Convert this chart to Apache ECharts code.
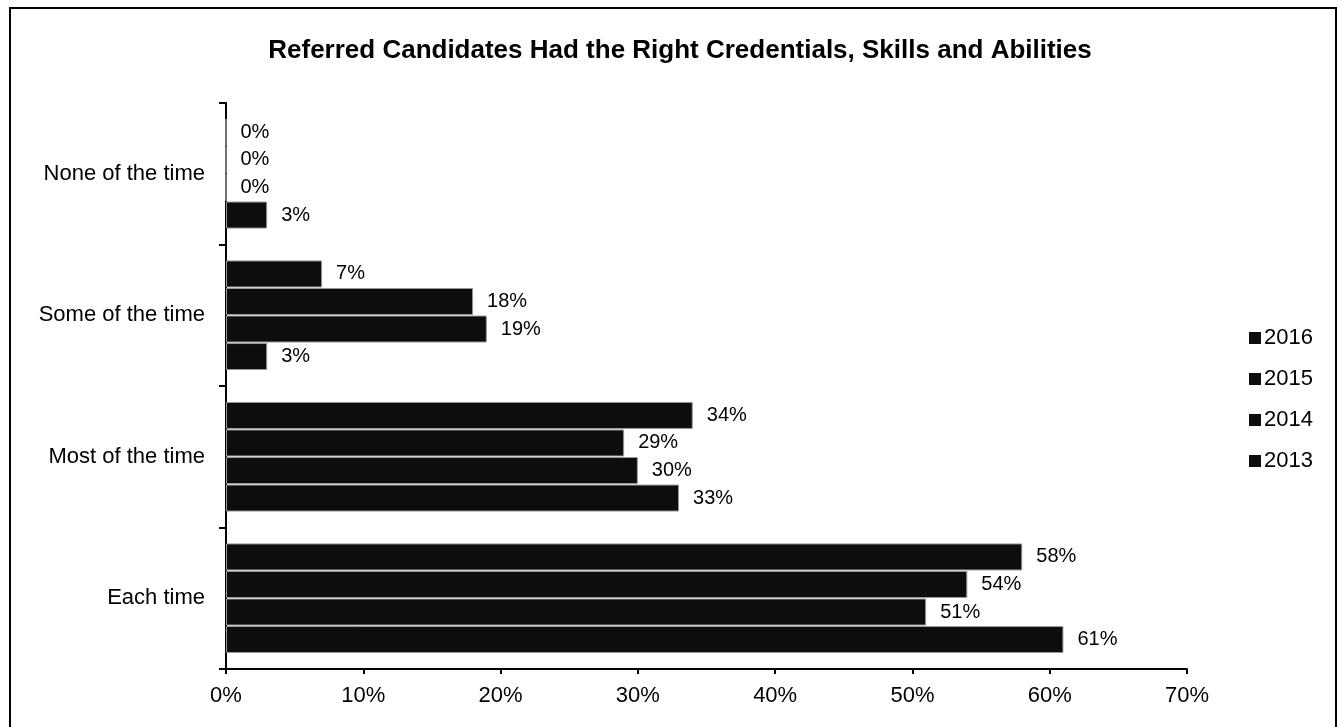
<!DOCTYPE html>
<html>
<head>
<meta charset="utf-8">
<script src="https://cdn.jsdelivr.net/npm/echarts@6/dist/echarts.min.js"></script>
<style>
  html, body { margin: 0; padding: 0; background: #fff; }
  #chart { width: 1338px; height: 727px; }
</style>
</head>
<body>
<div id="chart"></div>
<script>
// Response categories, listed top to bottom
const categories = ['None of the time', 'Some of the time', 'Most of the time', 'Each time'];
// Survey years, in legend order
const years = ['2016', '2015', '2014', '2013'];
// Share of respondents (%) per category for each year
const values2016 = [0, 7, 34, 58];
const values2015 = [0, 18, 29, 54];
const values2014 = [0, 19, 30, 51];
const values2013 = [3, 3, 33, 61];
// Percent axis ticks
const xTicks = [0, 10, 20, 30, 40, 50, 60, 70];

const seriesValues = [values2016, values2015, values2014, values2013];
const FONT = '"Liberation Sans", Arial, sans-serif';

const chart = echarts.init(document.getElementById('chart'), null, { renderer: 'canvas' });

chart.setOption({
  backgroundColor: '#fff',
  animation: false,
  title: {
    text: 'Referred Candidates Had the Right Credentials, Skills and Abilities',
    left: 675,
    textAlign: 'center',
    top: 33,
    textStyle: { fontFamily: FONT, fontSize: 26, fontWeight: 'bold', color: '#000' }
  },
  graphic: [{
    type: 'rect',
    shape: { x: 10, y: 8, width: 1326, height: 740 },
    style: { fill: 'none', stroke: '#000', lineWidth: 2 },
    silent: true
  }],
  legend: {
    orient: 'vertical',
    left: 1244,
    top: 322,
    itemWidth: 12,
    itemHeight: 12,
    itemGap: 19,
    icon: 'rect',
    data: years,
    itemStyle: { borderWidth: 0, color: '#0d0d0d' },
    textStyle: { fontFamily: FONT, fontSize: 22, lineHeight: 22, color: '#000', padding: [0, 0, 0, -2] }
  },
  grid: { left: 226, right: 151, top: 103, bottom: 58, containLabel: false },
  xAxis: {
    type: 'value',
    min: xTicks[0],
    max: xTicks[xTicks.length - 1],
    interval: 10,
    splitLine: { show: false },
    axisLine: { show: true, lineStyle: { color: '#000', width: 2 } },
    axisTick: { show: true, length: 5, lineStyle: { color: '#000', width: 2 } },
    axisLabel: {
      fontFamily: FONT, fontSize: 22, color: '#000', margin: 16,
      formatter: v => v + '%'
    }
  },
  yAxis: {
    type: 'category',
    inverse: true,
    data: categories,
    axisLine: { show: true, lineStyle: { color: '#000', width: 2 } },
    axisTick: { show: true, length: 7, lineStyle: { color: '#000', width: 2 } },
    axisLabel: { fontFamily: FONT, fontSize: 22, color: '#000', margin: 21 }
  },
  series: years.map((y, i) => ({
    name: y,
    type: 'bar',
    data: seriesValues[i],
    barWidth: 27,
    barGap: '2%',
    barCategoryGap: '22%',
    itemStyle: { color: '#0d0d0d', borderColor: '#9a9a9a', borderWidth: 1 },
    label: {
      show: true,
      position: 'right',
      distance: 14,
      fontFamily: FONT,
      fontSize: 20,
      color: '#000',
      formatter: p => p.value + '%'
    }
  }))
});
</script>
</body>
</html>
